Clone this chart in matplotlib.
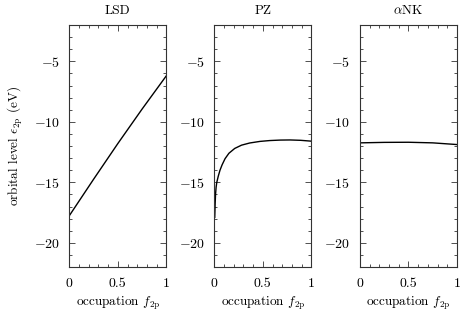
import numpy as np
import matplotlib
matplotlib.use("Agg")
import matplotlib.pyplot as plt
from matplotlib.ticker import MultipleLocator

plt.rcParams['font.family'] = 'serif'
plt.rcParams['font.serif'] = ['cmr10']
plt.rcParams['mathtext.fontset'] = 'cm'
plt.rcParams['axes.formatter.use_mathtext'] = True
plt.rcParams['font.size'] = 9.5

# dati
titles = ['LSD', 'PZ', r'$\alpha$NK']

f_lsd = [0.0, 0.25, 0.5, 0.75, 1.0]
e_lsd = [-17.76, -14.75, -11.8, -8.95, -6.2]

f_pz = [0.004, 0.008, 0.012, 0.018, 0.025, 0.04, 0.058, 0.08, 0.11, 0.15,
        0.21, 0.28, 0.365, 0.47, 0.57, 0.68, 0.78, 0.89, 1.0]
e_pz = [-17.9, -16.8, -16.0, -15.4, -15.0, -14.5, -14.0, -13.55, -13.05, -12.6,
        -12.2, -11.93, -11.75, -11.62, -11.55, -11.51, -11.5, -11.53, -11.6]

f_nk = [0.0, 0.25, 0.5, 0.75, 1.0]
e_nk = [-11.74, -11.7, -11.69, -11.74, -11.88]

fs = [f_lsd, f_pz, f_nk]
es = [e_lsd, e_pz, e_nk]

fig = plt.figure(figsize=(4.63, 3.19), dpi=100)
lefts = [0.1497, 0.463, 0.7775]
for k in range(3):
    ax = fig.add_axes([lefts[k], 0.163, 0.2095, 0.7586])
    ax.plot(fs[k], es[k], color='black', lw=1.0)
    ax.set_xlim(0, 1)
    ax.set_ylim(-22, -2)
    ax.set_xticks([0, 0.5, 1])
    ax.set_xticklabels(['0', '0.5', '1'])
    ax.set_yticks([-5, -10, -15, -20])
    ax.set_yticklabels([r'$-5$', r'$-10$', r'$-15$', r'$-20$'])
    ax.xaxis.set_minor_locator(MultipleLocator(0.1))
    ax.yaxis.set_minor_locator(MultipleLocator(1))
    ax.tick_params(which='both', direction='in', top=True, right=True,
                   width=0.6, color='#333333', labelsize=10)
    ax.tick_params(which='major', length=4)
    ax.tick_params(which='minor', length=2)
    ax.tick_params(axis='y', pad=7)
    ax.tick_params(axis='x', pad=8)
    for sp in ax.spines.values():
        sp.set_linewidth(0.8)
        sp.set_color('#333333')
    ax.set_title(titles[k], fontsize=9.5, pad=8)
    ax.set_xlabel(r'occupation $f_{2\mathrm{p}}$', labelpad=3)
    if k == 0:
        ax.set_ylabel(r'orbital level $\epsilon_{2\mathrm{p}}$ (eV)', labelpad=6)

fig.savefig('out.png', dpi=100)
